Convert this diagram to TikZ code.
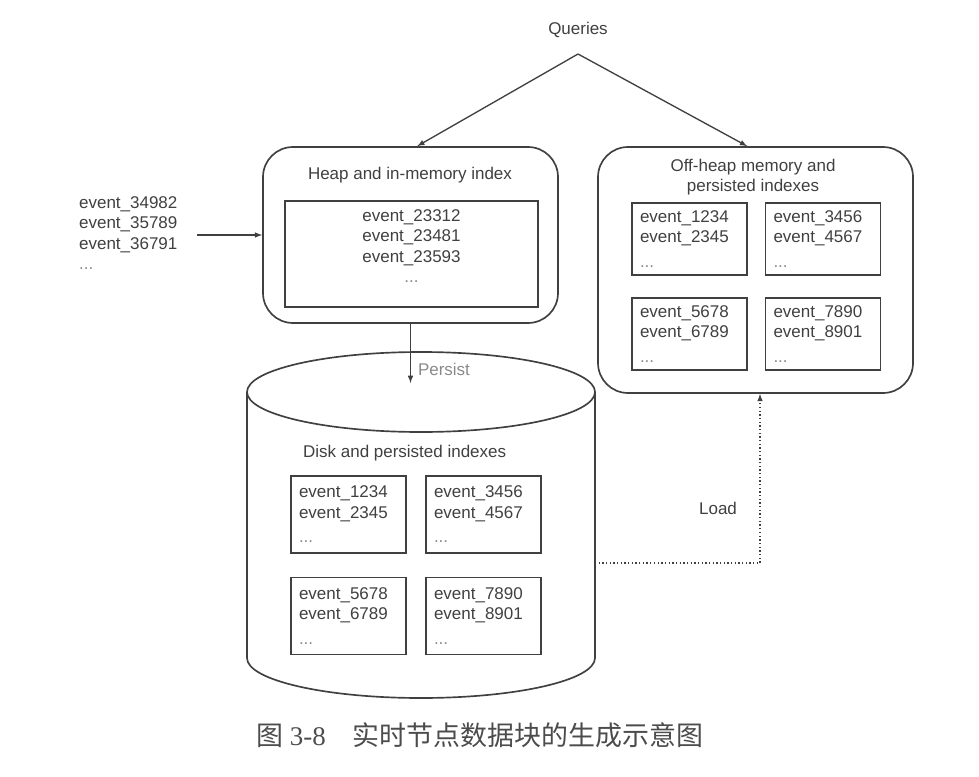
\documentclass[tikz,border=0pt]{standalone}
\usepackage{fontspec}
\setmainfont{Liberation Sans}
\newfontfamily\cjk{Noto Sans CJK SC}
\newfontfamily\capserif{Liberation Serif}
\usetikzlibrary{positioning}
\definecolor{ink}{HTML}{404040}
\definecolor{dotgray}{HTML}{8A8A8A}
\tikzset{
  memory/.style={
    draw=ink, rectangle, rounded corners=0.9cm, line width=0.5mm
  },
  idx/.style={
    draw=ink, rectangle, line width=0.45mm, minimum width=7.59cm, minimum height=3.18cm
  },
  chunk/.style={
    draw=ink, rectangle, line width=0.45mm, text width=2.97cm, inner xsep=0.24cm,
    minimum height=2.16cm, align=left
  },
  flow/.style={-latex, draw=ink, line width=0.4mm}
}

\begin{document}
\begin{tikzpicture}[font=\fontsize{14.5}{17.5}\selectfont, text=ink]
 \useasboundingbox (0,0) rectangle (29.37,23.28);

 \node (queries) at (17.34, 22.38) {Queries};
 \coordinate (apex) at (17.34, 21.66);

 \node[memory, minimum width=8.85cm, minimum height=5.28cm] (heap) at (12.315, 16.23) {};
 \node (heaptitle) at (12.3, 18.03) {Heap and in-memory index};
 \node[idx] (heapidx) at (12.345, 15.66) {};
 \node[align=center] (heaptxt) at ([yshift=0.24cm]heapidx.center)
   {event\_23312\\event\_23481\\event\_23593\\\textcolor{dotgray}{...}};

 \node[align=left, anchor=west] (incoming) at (2.25, 16.29)
   {event\_34982\\event\_35789\\event\_36791\\\textcolor{dotgray}{...}};
 \coordinate (feedin) at (5.91, 16.23);

 \node[memory, minimum width=9.45cm, minimum height=7.38cm] (offheap) at (22.665, 15.18) {};
 \node[align=center] (offtitle) at (22.59, 17.97) {Off-heap memory and\\persisted indexes};
 \foreach \n/\x/\y/\a/\b in {otl/20.685/16.11/1234/2345, otr/24.69/16.11/3456/4567,
                             obl/20.685/13.26/5678/6789, obr/24.69/13.26/7890/8901} {
   \node[chunk] (\n) at (\x,\y) {event\_\a\\event\_\b\\[0.12cm]\textcolor{dotgray}{...}};
  }

 % disk cylinder
 \draw[draw=ink, line width=0.5mm] (7.41, 11.52) -- (7.41, 3.54)
   arc[start angle=180, end angle=360, x radius=5.22cm, y radius=1.2cm] -- (17.85, 11.52);
 \draw[draw=ink, line width=0.5mm] (12.63, 11.52) ellipse[x radius=5.22cm, y radius=1.2cm];
 \node[anchor=west] (disktitle) at (8.97, 9.69) {Disk and persisted indexes};
 \foreach \n/\x/\y/\a/\b in {dtl/10.455/7.845/1234/2345, dtr/14.505/7.845/3456/4567,
                             dbl/10.455/4.80/5678/6789, dbr/14.505/4.80/7890/8901} {
   \node[chunk, minimum height=2.31cm] (\n) at (\x,\y) {event\_\a\\event\_\b\\[0.12cm]\textcolor{dotgray}{...}};
  }
 \coordinate (persistend) at (12.315, 11.79);
 \coordinate (loadstart) at (17.85, 6.39);

 \draw[flow] (apex) -- ([xshift=0.2cm]heap.north);
 \draw[flow] (apex) -- ([xshift=-0.25cm]offheap.north);
 \draw[flow] (feedin) -- (heap.west);
 \draw[flow] (heap.south) -- (persistend);
 \node[text=dotgray] (persist) at (13.32, 12.21) {Persist};
 \draw[flow, dotted] (loadstart) -| ([xshift=0.135cm]offheap.south);
 \node (load) at (21.54, 8.04) {Load};

 \node[text=black!70] (caption) at (14.4, 1.23)
   {\fontsize{23}{26}\selectfont\cjk 图 {\capserif 3-8}\quad 实时节点数据块的生成示意图};
\end{tikzpicture}
\end{document}
